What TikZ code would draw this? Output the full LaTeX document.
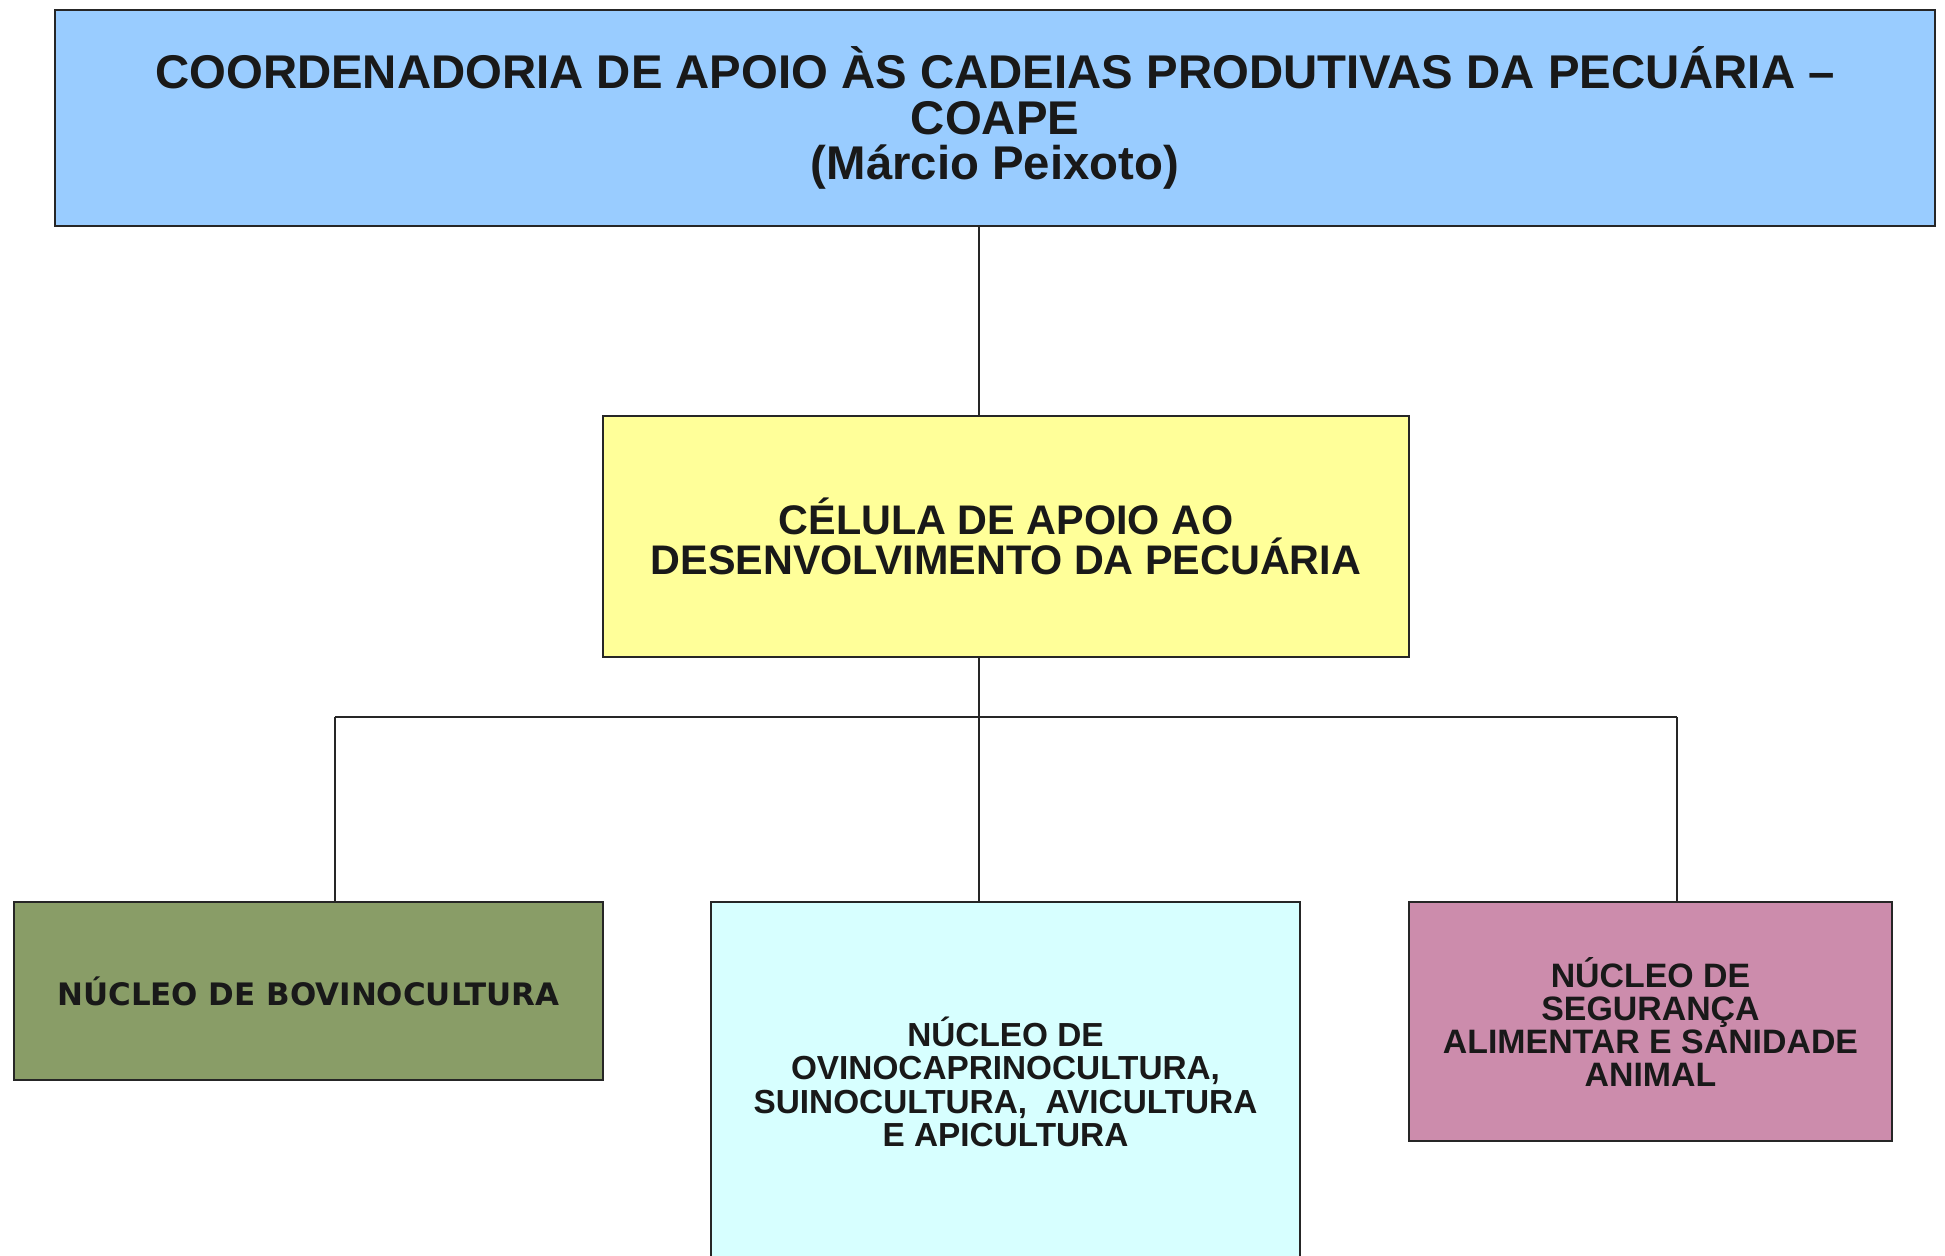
\documentclass[tikz,border=0pt]{standalone}
\usepackage{fontspec}
\setmainfont{Liberation Sans}
\newfontfamily\dejavu{DejaVu Sans}
\usepackage{tikz}

\definecolor{coapeblue}{RGB}{153,204,255}
\definecolor{celyellow}{RGB}{255,255,153}
\definecolor{bovgreen}{RGB}{137,157,103}
\definecolor{ovicyan}{RGB}{215,255,255}
\definecolor{segpink}{RGB}{204,140,172}

\tikzset{
  orgbox/.style={draw=black!85, line width=1.2pt, align=center, inner sep=0pt, text=black!90},
  orgline/.style={draw=black!85, line width=1.1pt}
}

\begin{document}
\begin{tikzpicture}[x=0.75pt,y=0.75pt,yscale=-1,xscale=1]
\useasboundingbox (0,0) rectangle (1945,1256);
\fill[white] (0,0) rectangle (1945,1256);

%Shape: Rectangle [id:coape]
\node [orgbox, fill=coapeblue, minimum width=1410pt, minimum height=162pt,
  font={\fontsize{35.5}{34}\selectfont\bfseries}] (coape) at (995,118)
  {COORDENADORIA DE APOIO ÀS CADEIAS PRODUTIVAS DA PECUÁRIA –\\COAPE\\(Márcio Peixoto)};
%Shape: Rectangle [id:celula]
\node [orgbox, fill=celyellow, minimum width=604.5pt, minimum height=180.75pt,
  font={\fontsize{31}{30}\selectfont\bfseries}] (celula) at (1006,536.5)
  {CÉLULA DE APOIO AO\\DESENVOLVIMENTO DA PECUÁRIA};
%Shape: Rectangle [id:bovino]
\node [orgbox, fill=bovgreen, minimum width=441.75pt, minimum height=133.5pt,
  font={\dejavu\fontsize{23.2}{26}\selectfont\bfseries}] (bovino) at (308.5,991)
  {NÚCLEO DE BOVINOCULTURA};
%Shape: Rectangle [id:ovino]
\node [orgbox, fill=ovicyan, minimum width=441.75pt, minimum height=270pt,
  font={\fontsize{25}{25}\selectfont\bfseries}] (ovino) at (1005.5,1082)
  {NÚCLEO DE\\OVINOCAPRINOCULTURA,\\SUINOCULTURA,~~AVICULTURA\\E APICULTURA};
%Shape: Rectangle [id:seguranca]
\node [orgbox, fill=segpink, minimum width=362.25pt, minimum height=179.25pt,
  font={\fontsize{25.4}{24.75}\selectfont\bfseries}] (seguranca) at (1650.5,1021.5)
  {NÚCLEO DE\\SEGURANÇA\\ALIMENTAR E SANIDADE\\ANIMAL};

% Bus points
\coordinate (bl) at (335,717);
\coordinate (bm) at (979,717);
\coordinate (br) at (1677,717);

%Straight Lines
\draw [orgline] (coape.south -| bm) -- (celula.north -| bm);
\draw [orgline] (celula.south -| bm) -- (bm);
\draw [orgline] (bl) -- (br);
\draw [orgline] (bl) -- (bovino.north -| bl);
\draw [orgline] (bm) -- (ovino.north -| bm);
\draw [orgline] (br) -- (seguranca.north -| br);

\end{tikzpicture}
\end{document}
